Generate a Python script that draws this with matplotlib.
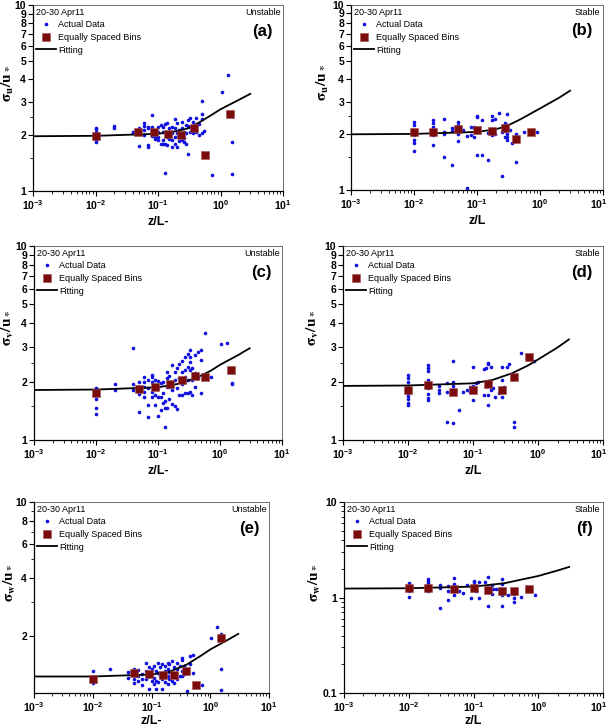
"""Six-panel sigma/u* vs z/L plot (unstable left, stable right)."""

import matplotlib
matplotlib.use("Agg")
import matplotlib.pyplot as plt
import matplotlib.ticker as mticker
import matplotlib.transforms as mtransforms

plt.rcParams["font.family"] = ["Liberation Sans", "DejaVu Sans"]
plt.rcParams["mathtext.fontset"] = "custom"
plt.rcParams["mathtext.rm"] = "Liberation Sans:bold"
plt.rcParams["mathtext.bf"] = "Liberation Sans:bold"
plt.rcParams["mathtext.it"] = "Liberation Sans:bold"

# ── (a) sigma_u, unstable ────────────────────────────────────────────────
a_x = [0.01, 0.01, 0.01, 0.01, 0.01, 0.02, 0.02, 0.04, 0.04, 0.05, 0.05, 0.05,
       0.06, 0.06, 0.06, 0.06, 0.07, 0.07, 0.07, 0.07, 0.08, 0.08, 0.08, 0.08,
       0.09, 0.09, 0.09, 0.09, 0.10, 0.10, 0.10, 0.10, 0.11, 0.11,
       0.12, 0.12, 0.12, 0.12, 0.13, 0.13, 0.13, 0.13, 0.14, 0.14, 0.14,
       0.15, 0.15, 0.15, 0.17, 0.17, 0.17, 0.17, 0.19, 0.19, 0.19, 0.19,
       0.20, 0.20, 0.20, 0.22, 0.22, 0.22, 0.24, 0.24, 0.24, 0.24,
       0.26, 0.26, 0.26, 0.28, 0.28, 0.28, 0.30, 0.30, 0.30,
       0.33, 0.33, 0.33, 0.36, 0.36, 0.36, 0.40, 0.40, 0.40, 0.45, 0.45,
       0.50, 0.50, 0.50, 0.50, 0.55, 0.72, 1.05, 1.30, 1.55, 1.55]
a_y = [2.19, 2.15, 2.08, 1.88, 1.84, 2.24, 2.17, 2.08, 2.04, 2.19, 2.13, 1.75,
       2.33, 2.24, 2.13, 2.00, 2.22, 2.17, 1.76, 1.73, 2.56, 2.22, 2.08, 1.98,
       2.11, 2.04, 1.96, 1.90, 2.22, 2.08, 1.96, 1.88, 2.26, 1.80,
       2.22, 2.08, 1.88, 1.79, 1.25, 1.80, 2.08, 2.29, 2.31, 1.96, 1.77,
       2.17, 2.08, 1.90, 2.22, 2.06, 1.88, 1.73, 2.43, 2.17, 1.96, 1.80,
       2.31, 2.04, 1.73, 2.13, 1.98, 1.86, 2.36, 2.17, 1.96, 1.88,
       2.08, 1.92, 1.84, 2.26, 2.04, 1.80, 2.41, 2.24, 1.59,
       2.46, 2.22, 2.08, 2.36, 2.22, 2.04, 2.46, 2.24, 2.08, 2.29, 2.00,
       3.06, 2.59, 2.43, 2.04, 2.09, 1.22, 3.42, 4.19, 1.84, 1.24]
a_bin_x = [0.01, 0.048, 0.087, 0.147, 0.23, 0.38, 0.57, 1.43]
a_bin_y = [1.98, 2.07, 2.08, 2.02, 2.01, 2.19, 1.57, 2.59]
a_fit_x = [0.001, 0.01, 0.1, 0.2, 0.3, 0.4, 0.5, 0.7, 1.0, 1.5, 2.0, 3.0]
a_fit_y = [1.97, 1.98, 2.03, 2.10, 2.17, 2.28, 2.38, 2.55, 2.75, 2.95, 3.10, 3.33]

# ── (b) sigma_u, stable ──────────────────────────────────────────────────
b_x = [0.01, 0.01, 0.01, 0.01, 0.01, 0.01, 0.01,
       0.02, 0.02, 0.02, 0.02, 0.02, 0.02, 0.03, 0.03, 0.03, 0.03,
       0.04, 0.04, 0.04, 0.05, 0.05, 0.05, 0.05, 0.06, 0.07, 0.07,
       0.08, 0.08, 0.09, 0.09, 0.10, 0.10, 0.10, 0.12, 0.12, 0.15, 0.15,
       0.17, 0.17, 0.17, 0.17, 0.19, 0.19, 0.22, 0.25, 0.25,
       0.28, 0.28, 0.28, 0.28, 0.30, 0.30, 0.30, 0.30, 0.30, 0.34, 0.36,
       0.42, 0.42, 0.42, 0.42, 0.55, 0.88]
b_y = [2.34, 2.24, 2.07, 1.98, 1.86, 1.79, 1.63,
       2.39, 2.31, 2.20, 2.07, 1.99, 1.75, 2.43, 2.07, 2.01, 1.51,
       2.15, 2.09, 1.36, 2.34, 2.24, 2.02, 1.83, 2.11, 1.97, 1.03,
       2.20, 1.98, 2.18, 1.94, 2.51, 2.47, 1.55, 2.39, 1.55, 2.04, 1.45,
       2.51, 2.39, 2.07, 1.98, 2.41, 2.02, 2.62, 1.19, 2.07,
       2.29, 2.20, 2.09, 1.94, 2.58, 2.24, 2.02, 1.93, 1.86, 2.11, 1.79,
       2.02, 1.94, 1.83, 1.41, 2.07, 2.05]
b_bin_x = [0.01, 0.02, 0.05, 0.10, 0.17, 0.28, 0.42, 0.72]
b_bin_y = [2.05, 2.06, 2.13, 2.11, 2.08, 2.15, 1.89, 2.05]
b_fit_x = [0.001, 0.01, 0.1, 0.2, 0.3, 0.5, 0.7, 1.0, 2.0, 3.0]
b_fit_y = [2.00, 2.01, 2.06, 2.13, 2.22, 2.42, 2.58, 2.76, 3.15, 3.44]

# ── (c) sigma_v, unstable ────────────────────────────────────────────────
c_x = [0.01, 0.01, 0.01, 0.01, 0.01, 0.02, 0.02, 0.04, 0.04, 0.04,
       0.05, 0.05, 0.05, 0.05, 0.06, 0.06, 0.06, 0.06, 0.06,
       0.07, 0.07, 0.07, 0.07, 0.08, 0.08, 0.08, 0.08, 0.08,
       0.09, 0.09, 0.09, 0.09, 0.10, 0.10, 0.10, 0.10, 0.11, 0.11, 0.11,
       0.12, 0.12, 0.12, 0.13, 0.13, 0.13, 0.14, 0.14, 0.14, 0.14,
       0.15, 0.15, 0.15, 0.17, 0.17, 0.17, 0.19, 0.19, 0.19,
       0.20, 0.20, 0.20, 0.22, 0.22, 0.22, 0.24, 0.24, 0.24, 0.24,
       0.27, 0.27, 0.27, 0.27, 0.30, 0.30, 0.30, 0.30,
       0.33, 0.33, 0.33, 0.33, 0.33, 0.36, 0.36, 0.36, 0.40, 0.40, 0.40,
       0.45, 0.45, 0.50, 0.50, 0.50, 0.58, 0.72, 1.05, 1.30, 1.55, 1.55]
c_y = [1.86, 1.83, 1.62, 1.47, 1.36, 1.94, 1.80, 2.97, 1.94, 1.80,
       2.00, 1.85, 1.72, 1.40, 2.10, 1.98, 1.88, 1.77, 1.67,
       2.04, 1.85, 1.51, 1.32, 2.16, 2.12, 2.00, 1.77, 1.67,
       2.05, 1.88, 1.71, 1.51, 2.02, 1.85, 1.67, 1.33, 1.96, 1.67, 1.43,
       1.98, 1.74, 1.55, 1.17, 1.58, 1.46, 2.25, 2.08, 1.88, 1.46,
       2.14, 1.88, 1.62, 2.44, 1.81, 1.53, 2.25, 2.04, 1.49,
       2.34, 1.85, 1.44, 2.46, 2.08, 1.71, 2.56, 2.25, 1.94, 1.71,
       2.69, 2.30, 2.12, 1.74, 2.77, 2.39, 2.04, 1.74,
       2.91, 2.69, 2.53, 2.30, 1.77, 2.34, 2.04, 1.71, 2.74, 2.21, 1.88,
       2.85, 2.08, 2.91, 2.58, 1.74, 3.57, 2.12, 3.12, 3.15, 1.96, 1.94]
c_bin_x = [0.01, 0.05, 0.09, 0.155, 0.24, 0.39, 0.58, 1.5]
c_bin_y = [1.74, 1.83, 1.88, 1.94, 2.04, 2.14, 2.12, 2.30]
c_fit_x = [0.001, 0.01, 0.1, 0.2, 0.4, 0.7, 1.0, 2.0, 3.0]
c_fit_y = [1.81, 1.82, 1.87, 1.94, 2.08, 2.27, 2.44, 2.75, 2.97]

# ── (d) sigma_v, stable ──────────────────────────────────────────────────
d_x = [0.01, 0.01, 0.01, 0.01, 0.01, 0.01, 0.01, 0.01, 0.01, 0.01,
       0.02, 0.02, 0.02, 0.02, 0.02, 0.02, 0.02, 0.02, 0.02,
       0.03, 0.03, 0.03, 0.04, 0.04, 0.04, 0.05, 0.05, 0.05, 0.05, 0.05,
       0.06, 0.07, 0.08, 0.09, 0.09, 0.10, 0.10, 0.10, 0.10, 0.11, 0.12,
       0.15, 0.15, 0.16, 0.17, 0.17, 0.17, 0.17, 0.19, 0.19, 0.20, 0.22,
       0.25, 0.28, 0.28, 0.28, 0.28, 0.30, 0.33, 0.36,
       0.42, 0.42, 0.42, 0.42, 0.55, 0.88]
d_y = [2.16, 2.08, 1.98, 1.90, 1.81, 1.75, 1.69, 1.62, 1.55, 1.51,
       2.44, 2.36, 2.28, 2.05, 1.94, 1.85, 1.73, 1.64, 1.61,
       1.90, 1.82, 1.75, 1.96, 1.77, 1.24, 2.56, 2.00, 1.90, 1.74, 1.22,
       1.42, 1.77, 1.82, 1.88, 1.77, 2.38, 1.90, 1.77, 1.60, 1.96, 1.98,
       2.31, 1.71, 2.34, 2.50, 2.46, 1.71, 1.51, 2.39, 1.81, 1.85, 1.66,
       1.74, 2.37, 2.04, 1.81, 1.67, 1.88, 2.39, 2.46,
       2.16, 2.08, 1.24, 1.17, 2.80, 2.56]
d_bin_x = [0.01, 0.02, 0.05, 0.10, 0.17, 0.28, 0.42, 0.72]
d_bin_y = [1.81, 1.92, 1.77, 1.80, 1.94, 1.81, 2.12, 2.67]
d_fit_x = [0.001, 0.01, 0.1, 0.2, 0.4, 0.7, 1.0, 2.0, 3.0]
d_fit_y = [1.90, 1.91, 1.96, 2.04, 2.21, 2.42, 2.60, 3.00, 3.30]

# ── (e) sigma_w, unstable ────────────────────────────────────────────────
e_x = [0.01, 0.01, 0.02, 0.04, 0.04, 0.05, 0.05, 0.05, 0.05,
       0.06, 0.06, 0.06, 0.07, 0.07, 0.07, 0.08, 0.08, 0.08,
       0.09, 0.09, 0.09, 0.10, 0.10, 0.10, 0.11, 0.11, 0.11,
       0.12, 0.12, 0.12, 0.13, 0.13, 0.13, 0.14, 0.14,
       0.15, 0.15, 0.15, 0.15, 0.17, 0.17, 0.17, 0.19, 0.19, 0.19, 0.19,
       0.20, 0.20, 0.20, 0.22, 0.22, 0.22, 0.24, 0.24, 0.24,
       0.27, 0.27, 0.27, 0.30, 0.30, 0.33, 0.33, 0.33, 0.33, 0.36, 0.36,
       0.40, 0.40, 0.45, 0.45, 0.50, 0.50, 0.72, 1.05, 1.30, 1.55, 1.55, 1.55]
e_y = [1.30, 1.13, 1.33, 1.29, 1.20, 1.34, 1.25, 1.18, 1.13,
       1.32, 1.23, 1.16, 1.26, 1.18, 1.10, 1.43, 1.30, 1.19,
       1.36, 1.23, 1.05, 1.33, 1.25, 1.16, 1.38, 1.20, 1.11,
       1.30, 1.16, 1.05, 1.44, 1.28, 1.14, 1.36, 1.23,
       1.42, 1.25, 1.18, 1.05, 1.38, 1.30, 1.14, 1.44, 1.33, 1.23, 1.11,
       1.41, 1.29, 1.18, 1.47, 1.28, 1.16, 1.36, 1.23, 1.13,
       1.44, 1.33, 1.19, 1.38, 1.23, 1.53, 1.49, 1.30, 1.23, 1.38, 1.25,
       1.29, 1.02, 1.56, 1.41, 1.59, 1.27, 1.10, 1.95, 2.21, 2.03, 1.33, 1.04]
e_bin_x = [0.01, 0.05, 0.09, 0.155, 0.24, 0.39, 0.58, 1.5]
e_bin_y = [1.18, 1.27, 1.25, 1.24, 1.24, 1.30, 1.10, 1.95]
e_fit_x = [0.001, 0.01, 0.1, 0.2, 0.4, 0.7, 1.0, 2.0, 3.0]
e_fit_y = [1.22, 1.22, 1.25, 1.29, 1.41, 1.57, 1.69, 1.90, 2.04]

# ── (f) sigma_w, stable ──────────────────────────────────────────────────
f_x = [0.01, 0.01, 0.01, 0.01, 0.02, 0.02, 0.02, 0.02, 0.02,
       0.03, 0.03, 0.03, 0.04, 0.04, 0.04, 0.05, 0.05, 0.05,
       0.06, 0.07, 0.08, 0.09, 0.10, 0.10, 0.10, 0.11, 0.12, 0.12, 0.15,
       0.17, 0.17, 0.17, 0.17, 0.19, 0.19, 0.20, 0.22, 0.25,
       0.28, 0.28, 0.28, 0.28, 0.28, 0.30, 0.34, 0.42, 0.42, 0.42, 0.55, 0.88]
f_y = [1.41, 1.30, 1.17, 1.02, 1.55, 1.49, 1.41, 1.27, 1.16,
       1.35, 1.27, 0.77, 1.32, 1.17, 0.95, 1.59, 1.38, 1.06,
       1.17, 1.11, 1.35, 1.00, 1.49, 1.44, 1.35, 1.17, 1.46, 1.00, 1.44,
       1.62, 1.27, 1.13, 0.82, 1.35, 1.08, 1.22, 1.24, 1.22,
       1.58, 1.38, 1.13, 1.06, 0.82, 1.24, 1.06, 1.08, 1.00, 0.89, 1.02, 1.06]
f_bin_x = [0.01, 0.02, 0.05, 0.10, 0.17, 0.28, 0.42, 0.72]
f_bin_y = [1.25, 1.27, 1.24, 1.27, 1.20, 1.17, 1.16, 1.22]
f_fit_x = [0.001, 0.01, 0.1, 0.3, 0.5, 1.0, 2.0, 3.0]
f_fit_y = [1.24, 1.25, 1.30, 1.41, 1.52, 1.68, 1.92, 2.09]

# panel layout in pixels: left, right, top, bottom, y-label right edge
FIG_W, FIG_H = 609, 728
PANELS = [
    ("(a)", "Unstable", r"$\mathbf{\sigma_u/u_*}$", "z/L-", (33, 283, 5, 191, 16),
     a_x, a_y, a_bin_x, a_bin_y, a_fit_x, a_fit_y, "uv"),
    ("(b)", "Stable", r"$\mathbf{\sigma_u/u_*}$", "z/L", (351, 603, 5, 190, 331),
     b_x, b_y, b_bin_x, b_bin_y, b_fit_x, b_fit_y, "uv"),
    ("(c)", "Unstable", r"$\mathbf{\sigma_v/u_*}$", "z/L-", (34, 282, 246, 440, 16),
     c_x, c_y, c_bin_x, c_bin_y, c_fit_x, c_fit_y, "uv"),
    ("(d)", "Stable", r"$\mathbf{\sigma_v/u_*}$", "z/L", (343, 603, 246, 440, 321),
     d_x, d_y, d_bin_x, d_bin_y, d_fit_x, d_fit_y, "uv"),
    ("(e)", "Unstable", r"$\mathbf{\sigma_w/u_*}$", "z/L-", (34, 269, 502, 693, 18),
     e_x, e_y, e_bin_x, e_bin_y, e_fit_x, e_fit_y, "we"),
    ("(f)", "Stable", r"$\mathbf{\sigma_w/u_*}$", "z/L", (344, 603, 502, 693, 323),
     f_x, f_y, f_bin_x, f_bin_y, f_fit_x, f_fit_y, "wf"),
]

DOT_COLOR = "#1010e0"
BIN_COLOR = "#7a0c0c"

fig = plt.figure(figsize=(FIG_W / 100, FIG_H / 100), dpi=100)

for (tag, regime, ylab, xlab, (l, r, t, b, ylx),
     xs, ys, bx, by, fx, fy, kind) in PANELS:
    ax = fig.add_axes([l / FIG_W, 1 - b / FIG_H, (r - l) / FIG_W, (b - t) / FIG_H])
    ax.set_xscale("log")
    ax.set_yscale("log")

    ax.plot(xs, ys, "o", ms=2.6, color=DOT_COLOR, mec="none",
            label="Actual Data", zorder=2)
    ax.plot(bx, by, "s", ms=6.2, color=BIN_COLOR, mec="#a05050", mew=0.4,
            label="Equally Spaced Bins", zorder=4)
    ax.plot(fx, fy, "-", color="black", lw=1.3, label="Fitting", zorder=3)

    ax.set_xlim(1e-3, 10)
    ax.xaxis.set_major_locator(mticker.FixedLocator([1e-3, 1e-2, 1e-1, 1, 10]))
    ax.xaxis.set_major_formatter(mticker.FixedFormatter(
        [r"$10^{-3}$", r"$10^{-2}$", r"$10^{-1}$", r"$10^{0}$", r"$10^{1}$"]))
    ax.xaxis.set_minor_locator(mticker.LogLocator(base=10, subs=range(2, 10)))
    ax.xaxis.set_minor_formatter(mticker.NullFormatter())

    if kind == "uv":
        ax.set_ylim(1, 10)
        yt = [1, 2, 3, 4, 5, 6, 7, 8, 9, 10]
        ax.yaxis.set_major_locator(mticker.FixedLocator(yt))
        ax.yaxis.set_major_formatter(mticker.FixedFormatter([str(v) for v in yt]))
        ax.yaxis.set_minor_locator(mticker.FixedLocator([1.5, 2.5]))
    elif kind == "we":
        ax.set_ylim(1, 10)
        yt = [2, 4, 6, 8, 10]
        ax.yaxis.set_major_locator(mticker.FixedLocator(yt))
        ax.yaxis.set_major_formatter(mticker.FixedFormatter([str(v) for v in yt]))
        ax.yaxis.set_minor_locator(mticker.FixedLocator([3, 5, 7, 9]))
    else:
        ax.set_ylim(0.1, 10)
        ax.yaxis.set_major_locator(mticker.FixedLocator([0.1, 1, 10]))
        ax.yaxis.set_major_formatter(mticker.FixedFormatter(["0.1", "1", "10"]))
        ax.yaxis.set_minor_locator(mticker.LogLocator(base=10, subs=range(2, 10)))
    ax.yaxis.set_minor_formatter(mticker.NullFormatter())

    ax.tick_params(which="major", direction="out", length=3.5, width=0.8,
                   labelsize=7.5, pad=1.5, top=False, right=False)
    ax.tick_params(which="minor", direction="out", length=2, width=0.6,
                   top=False, right=False)
    for lbl in ax.get_yticklabels():
        lbl.set_fontweight("bold")
    # keep the 10^1 label of the right-hand column inside the figure
    if r > 590:
        last = ax.get_xticklabels()[-1]
        last.set_transform(last.get_transform() + mtransforms.ScaledTranslation(
            -4 / 100, 0, fig.dpi_scale_trans))
    for side in ("left", "bottom"):
        ax.spines[side].set_linewidth(0.9)
    for side in ("top", "right"):
        ax.spines[side].set_linewidth(0.6)
        ax.spines[side].set_color("#555555")

    ax.set_xlabel(xlab, fontsize=9, fontweight="bold",
                  labelpad=1 if kind in ("we", "wf") else 3)
    ax.set_ylabel(ylab, fontsize=11, math_fontfamily="stix")
    ax.yaxis.set_label_coords((ylx - l) / (r - l), 0.58)

    leg = ax.legend(loc="upper left", title="20-30 Apr11", frameon=False,
                    fontsize=6.5, title_fontsize=6.5, handlelength=2.2,
                    handletextpad=0.3, labelspacing=0.4, borderpad=0.2,
                    borderaxespad=0.1, markerscale=1)
    leg._legend_box.align = "left"

    ax.text(0.99, 0.985, regime, transform=ax.transAxes, ha="right", va="top",
            fontsize=6.5)
    ax.text(0.96, 0.90, tag, transform=ax.transAxes, ha="right", va="top",
            fontsize=12, fontweight="bold")

fig.savefig("out.png", dpi=100)
